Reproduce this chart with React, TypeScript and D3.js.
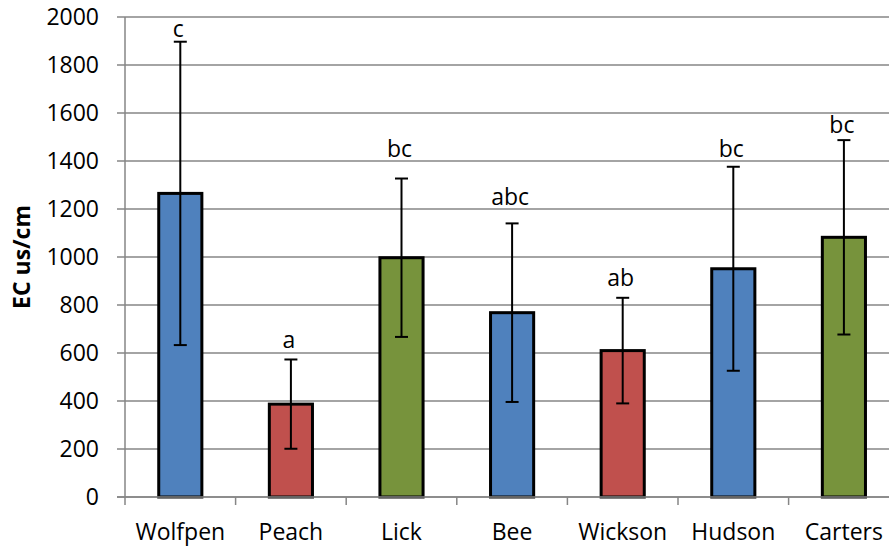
import React from "react";
import * as d3 from "d3";

const categories = ["Wolfpen", "Peach", "Lick", "Bee", "Wickson", "Hudson", "Carters"];
const means = [1265, 387, 997, 768, 610, 951, 1082];
const sds = [632, 186, 330, 372, 220, 425, 405];
const groups = ["blue", "red", "green", "blue", "red", "blue", "green"];
const letters = ["c", "a", "bc", "abc", "ab", "bc", "bc"];
const letterY = [1918, 621, 1418, 1217, 879, 1418, 1517];
const yTicks = [0, 200, 400, 600, 800, 1000, 1200, 1400, 1600, 1800, 2000];

const palette: Record<string, string> = { blue: "#4F81BD", red: "#C0504D", green: "#77933C" };

const W = 889;
const H = 548;
const left = 125;
const top = 17;
const bottom = 497;
const right = left + 7 * 110.6;
const FONT = "'Open Sans', 'Noto Sans', sans-serif";

export default function App() {
  const x = d3.scaleBand<string>().domain(categories).range([left, right]).padding(0);
  const y = d3.scaleLinear().domain([0, 2000]).range([bottom, top]);
  const bw = x.bandwidth() * 0.39;
  const grid = "#868686";

  return (
    <svg
      width={W}
      height={H}
      style={{ position: "absolute", left: 0, top: 0, background: "#fff" }}
      fontFamily={FONT}
    >
      <rect x={0} y={0} width={W} height={H} fill="#fff" />
      {yTicks.map((t) => (
        <g key={t}>
          <line x1={117} x2={W} y1={y(t)} y2={y(t)} stroke={grid} strokeWidth={1.5} />
          <text x={99} y={y(t)} dy="0.36em" textAnchor="end" fontSize={23} fill="#000">
            {t}
          </text>
        </g>
      ))}
      <line x1={left} x2={left} y1={top} y2={bottom + 8} stroke={grid} strokeWidth={1.5} />
      {categories.map((c, i) => (
        <line
          key={"t" + c}
          x1={(x(c) as number) + x.bandwidth()}
          x2={(x(c) as number) + x.bandwidth()}
          y1={bottom}
          y2={bottom + 8}
          stroke={grid}
          strokeWidth={1.5}
        />
      ))}
      {categories.map((c, i) => {
        const cx = (x(c) as number) + x.bandwidth() / 2;
        return (
          <g key={c}>
            <rect
              x={cx - bw / 2}
              y={y(means[i])}
              width={bw}
              height={y(0) - y(means[i])}
              fill={palette[groups[i]]}
              stroke="#000"
              strokeWidth={3}
            />
            <line x1={cx} x2={cx} y1={y(means[i] + sds[i])} y2={y(means[i] - sds[i])} stroke="#000" strokeWidth={2} />
            <line x1={cx - 6.5} x2={cx + 6.5} y1={y(means[i] + sds[i])} y2={y(means[i] + sds[i])} stroke="#000" strokeWidth={2} />
            <line x1={cx - 6.5} x2={cx + 6.5} y1={y(means[i] - sds[i])} y2={y(means[i] - sds[i])} stroke="#000" strokeWidth={2} />
            <text x={cx - 2} y={y(letterY[i])} textAnchor="middle" fontSize={23} fill="#000">
              {letters[i]}
            </text>
            <text x={cx} y={540} textAnchor="middle" fontSize={23} fill="#000">
              {c}
            </text>
          </g>
        );
      })}
      <line x1={117} x2={W} y1={bottom} y2={bottom} stroke={grid} strokeWidth={1.5} />
      <text
        transform={`translate(30, ${(top + bottom) / 2}) rotate(-90)`}
        textAnchor="middle"
        fontSize={23}
        fontWeight="bold"
        fill="#000"
      >
        EC us/cm
      </text>
    </svg>
  );
}
